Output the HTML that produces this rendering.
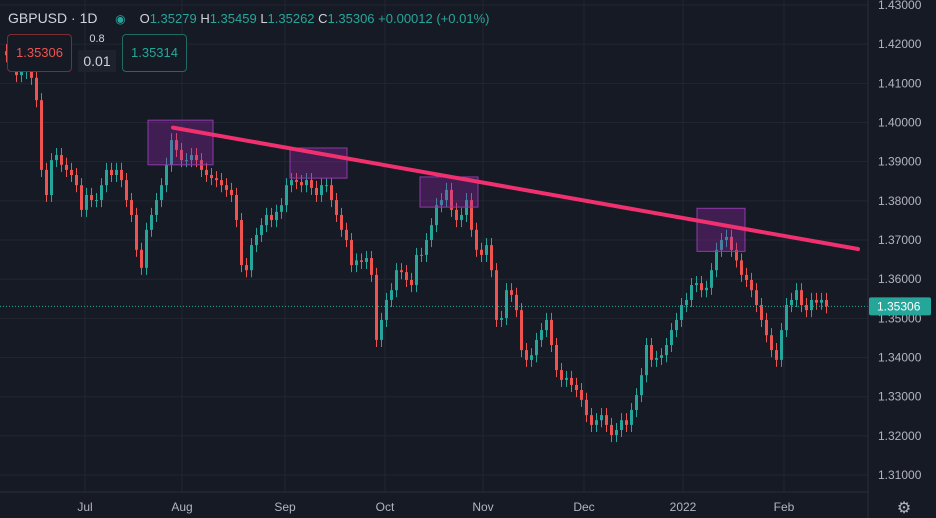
<!DOCTYPE html>
<html><head><meta charset="utf-8">
<style>
html,body{margin:0;padding:0;background:#161a25;}
body{width:936px;height:518px;overflow:hidden;font-family:"Liberation Sans",sans-serif;position:relative;}
svg{position:absolute;left:0;top:0;}
.hdr{position:absolute;left:8px;top:10px;font-size:13px;color:#d1d4dc;white-space:nowrap;}
.hdr span{margin-right:4px;}
.box{position:absolute;border:1px solid;border-radius:4px;font-size:13px;text-align:center;}
</style></head><body>
<svg id="chart" width="936" height="518"></svg>
<div class="hdr"><span style="font-size:14px">GBPUSD · 1D</span> <span style="color:#26a69a;font-size:12px;margin:0 14px 0 10px">◉</span><span>O<b style="font-weight:normal;color:#26a69a">1.35279</b> H<b style="font-weight:normal;color:#26a69a">1.35459</b> L<b style="font-weight:normal;color:#26a69a">1.35262</b> C<b style="font-weight:normal;color:#26a69a">1.35306 +0.00012 (+0.01%)</b></span></div>
<div class="box" style="left:7px;top:34px;width:63px;height:36px;line-height:36px;border-color:#7a2e33;color:#ef5350;background:#161a25">1.35306</div>
<div style="position:absolute;left:84px;top:33px;color:#d1d4dc;font-size:11px;width:26px;text-align:center">0.8</div>
<div style="position:absolute;left:78px;top:50px;width:38px;height:22px;line-height:22px;background:#1e222d;color:#d1d4dc;font-size:14px;text-align:center">0.01</div>
<div class="box" style="left:122px;top:34px;width:63px;height:36px;line-height:36px;border-color:#1f6b64;color:#26a69a;background:#161a25">1.35314</div>
<script>
const closes=[1.4172,1.4147,1.4121,1.4129,1.4134,1.4114,1.4057,1.3879,1.3815,1.3904,1.3917,1.3892,1.3879,1.3866,1.3840,1.3777,1.3815,1.3802,1.3802,1.3840,1.3879,1.3866,1.3879,1.3853,1.3802,1.3764,1.3675,1.3629,1.3726,1.3764,1.3802,1.3840,1.3892,1.3955,1.3930,1.3904,1.3904,1.3917,1.3904,1.3879,1.3866,1.3858,1.3853,1.3840,1.3828,1.3815,1.3751,1.3636,1.3623,1.3687,1.3713,1.3738,1.3764,1.3751,1.3772,1.3789,1.3840,1.3853,1.3848,1.3840,1.3853,1.3833,1.3815,1.3840,1.3840,1.3802,1.3764,1.3726,1.3700,1.3636,1.3648,1.3644,1.3654,1.3611,1.3445,1.3496,1.3547,1.3572,1.3623,1.3618,1.3598,1.3585,1.3662,1.3662,1.3700,1.3738,1.3789,1.3802,1.3828,1.3777,1.3751,1.3764,1.3802,1.3726,1.3675,1.3662,1.3687,1.3623,1.3496,1.3501,1.3572,1.3560,1.3521,1.3419,1.3394,1.3406,1.3445,1.3470,1.3496,1.3432,1.3368,1.3343,1.3348,1.3330,1.3317,1.3292,1.3253,1.3228,1.3240,1.3253,1.3228,1.3202,1.3215,1.3240,1.3228,1.3266,1.3304,1.3355,1.3432,1.3394,1.3399,1.3406,1.3432,1.3470,1.3496,1.3534,1.3547,1.3585,1.3590,1.3572,1.3578,1.3623,1.3675,1.3700,1.3708,1.3675,1.3648,1.3611,1.3598,1.3572,1.3534,1.3496,1.3457,1.3419,1.3394,1.3470,1.3534,1.3547,1.3572,1.3534,1.3521,1.3547,1.3540,1.3547,1.3531];
const priceTicks=[1.43,1.42,1.41,1.40,1.39,1.38,1.37,1.36,1.35,1.34,1.33,1.32,1.31];
const monthLabels=["Jul","Aug","Sep","Oct","Nov","Dec","2022","Feb"];
const monthIndex=[16,35.4,56,76,95.6,115.8,135.6,155.8];
const trendPrices=[1.3987,1.3677];
const trendIdx=[33.6,170.6];
const boxes=[[28.6,41.6,1.4006,1.3892],[57,68.4,1.3935,1.3858],[83,94.6,1.3861,1.3784],[138.4,148,1.3781,1.3671]];
const lastPrice=1.35306;

const svg=document.getElementById('chart');
const NS='http://www.w3.org/2000/svg';
const y=p=>5+(1.43-p)*3917;
const x=i=>5+i*5;
function mk(t,a){const e=document.createElementNS(NS,t);for(const k in a)e.setAttribute(k,a[k]);svg.appendChild(e);return e;}
priceTicks.forEach(p=>{const l=mk('line',{x1:0,x2:868,y1:y(p),y2:y(p),stroke:'#222632','stroke-width':1});

});
monthIndex.forEach(i=>{const l=mk('line',{x1:x(i),x2:x(i),y1:0,y2:492,stroke:'#222632','stroke-width':1});

});
closes.forEach((c,i)=>{
 const o=i?closes[i-1]:c+0.001;
 const up=c>=o;const col=up?'#26a69a':'#ef5350';
 const hi=Math.max(o,c)+0.0018,lo=Math.min(o,c)-0.0018;
 const w=mk('line',{x1:x(i)+1.5,x2:x(i)+1.5,y1:y(hi),y2:y(lo),stroke:col,'stroke-width':1});
 
 
 const b=mk('rect',{x:x(i),y:Math.min(y(o),y(c)),width:3,height:Math.max(1,Math.abs(y(o)-y(c))),fill:col});
 
 
});
boxes.forEach(bx=>{const r=mk('rect',{x:x(bx[0]),y:y(bx[2]),width:x(bx[1])-x(bx[0]),height:y(bx[3])-y(bx[2]),fill:'rgba(156,39,176,0.32)',stroke:'#8e3aa8','stroke-width':1});

});
const tl=mk('line',{x1:x(trendIdx[0]),y1:y(trendPrices[0]),x2:x(trendIdx[1]),y2:y(trendPrices[1]),stroke:'#f0306f','stroke-width':4,'stroke-linecap':'round'});


const lp=mk('line',{x1:0,x2:868,y1:y(lastPrice),y2:y(lastPrice),stroke:'#26a69a','stroke-width':1,'stroke-dasharray':'1 2'});


const ax=mk('line',{x1:868,x2:868,y1:0,y2:518,stroke:'#2a2e39'});


const bx=mk('line',{x1:0,x2:868,y1:492,y2:492,stroke:'#2a2e39'});


priceTicks.forEach(p=>{const t=mk('text',{x:878,y:y(p)+4,fill:'#b2b5be','font-size':12,'font-family':'Liberation Sans,sans-serif'});t.textContent=p.toFixed(5);

});
monthLabels.forEach((m,k)=>{const t=mk('text',{x:x(monthIndex[k]),y:511,fill:'#b2b5be','font-size':12,'text-anchor':'middle','font-family':'Liberation Sans,sans-serif'});t.textContent=m;

});
const pl=mk('rect',{x:869,y:y(lastPrice)-9,width:62,height:18,fill:'#26a69a',rx:2});


const plt=mk('text',{x:877,y:y(lastPrice)+4,fill:'#ffffff','font-size':12,'font-family':'Liberation Sans,sans-serif'});plt.textContent=lastPrice.toFixed(5);


const g=mk('text',{x:904,y:513,fill:'#b2b5be','font-size':16,'text-anchor':'middle'});g.textContent='⚙';


</script>
</body></html>
